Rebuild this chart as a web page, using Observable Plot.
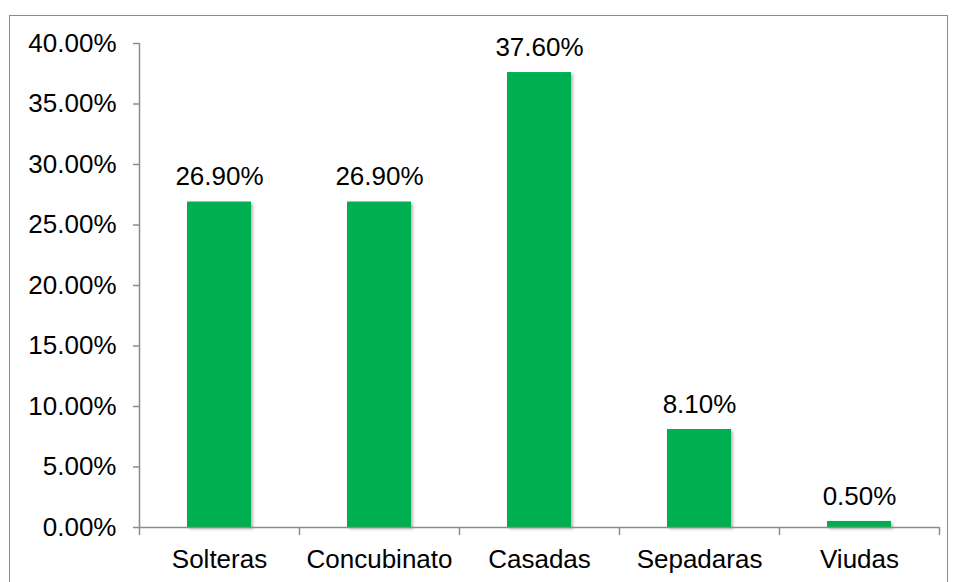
<!DOCTYPE html>
<html><head><meta charset="utf-8">
<script src="https://cdn.jsdelivr.net/npm/d3@7"></script>
<script src="https://cdn.jsdelivr.net/npm/@observablehq/plot@0.6"></script>
<style>
body{margin:0;background:#fff;}
#wrap{position:relative;width:958px;height:582px;overflow:hidden;}
#frame{position:absolute;left:9px;top:15px;width:939px;height:600px;border:1.5px solid #8c8c8c;box-sizing:border-box;}
#chart{position:absolute;left:0;top:0;}
.bars rect{filter:drop-shadow(2px 2px 1.5px rgba(0,0,0,0.28));}
</style></head>
<body><div id="wrap"><div id="frame"></div><div id="chart"></div></div>
<script>
const categories = ["Solteras","Concubinato","Casadas","Sepadaras","Viudas"];
const values = [26.9, 26.9, 37.6, 8.1, 0.5];
const yTicks = [0,5,10,15,20,25,30,35,40];

const data = categories.map((c,i)=>({cat:c, v:values[i]}));
const step = 160;
const font = "Liberation Sans, Arial, sans-serif";
const fs = 26;

const chart = Plot.plot({
  width:958, height:582,
  marginLeft:139, marginRight:19, marginTop:43, marginBottom:55,
  style:{fontFamily:font, fontSize:fs+"px", color:"#000", background:"transparent"},
  x:{domain:categories, paddingInner:0.6, paddingOuter:0.3},
  y:{domain:[0,40]},
  marks:[
    Plot.barY(data,{x:"cat", y:"v", fill:"#00b050", className:"bars"}),
    Plot.ruleY([0],{stroke:"#8c8c8c", strokeWidth:1.5}),
    Plot.ruleX(data.slice(0,1),{x:"cat", y1:0, y2:40, dx:-step/2, stroke:"#8c8c8c", strokeWidth:1.5}),
    Plot.ruleX(data,{x:"cat", y1:0, y2:0, insetBottom:-8, dx:-step/2, stroke:"#8c8c8c", strokeWidth:1.5}),
    Plot.ruleX(data.slice(-1),{x:"cat", y1:0, y2:0, insetBottom:-8, dx:step/2, stroke:"#8c8c8c", strokeWidth:1.5}),
    Plot.axisY(yTicks,{tickSize:6, tickPadding:17, tickFormat:d=>d.toFixed(2)+"%", stroke:"#8c8c8c", strokeWidth:1.5, fontSize:fs, fill:"#000", label:null}),
    Plot.axisX({tickSize:0, tickPadding:22, fontSize:fs, fill:"#000", label:null}),
    Plot.text(data,{x:"cat", y:"v", text:d=>d.v.toFixed(2)+"%", lineAnchor:"middle", dy:-25, fontSize:fs, fill:"#000"})
  ]
});
document.getElementById("chart").appendChild(chart);
</script></body></html>
